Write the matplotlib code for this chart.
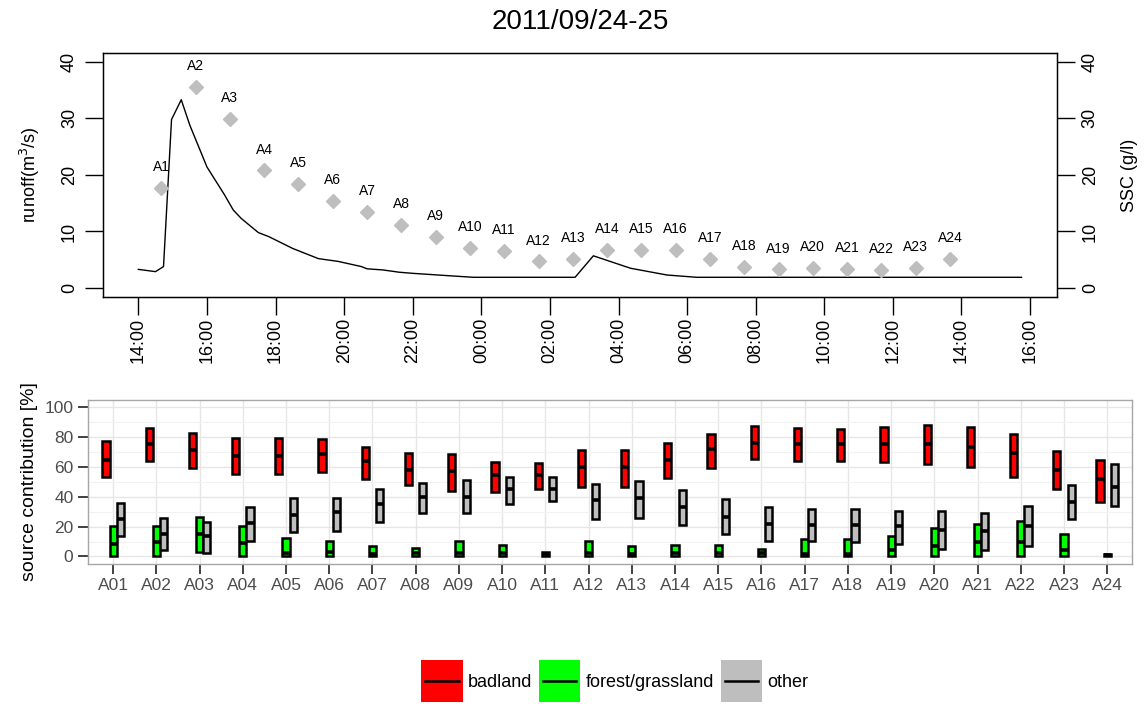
import numpy as np
import pandas as pd
import matplotlib
matplotlib.use("Agg")
import matplotlib.pyplot as plt
import matplotlib.dates as mdates
from matplotlib.patches import Patch, Rectangle
from matplotlib.lines import Line2D
from matplotlib.legend_handler import HandlerBase

plt.rcParams['font.family'] = ['Liberation Sans', 'DejaVu Sans']

# --- hydrograph (runoff) ---
runoff_time = ["2011-09-24 14:00", "2011-09-24 14:30", "2011-09-24 14:44", "2011-09-24 14:58",
               "2011-09-24 15:15", "2011-09-24 15:30", "2011-09-24 16:00", "2011-09-24 16:30",
               "2011-09-24 16:46", "2011-09-24 17:00", "2011-09-24 17:30", "2011-09-24 17:48",
               "2011-09-24 18:30", "2011-09-24 19:15", "2011-09-24 19:50", "2011-09-24 20:30",
               "2011-09-24 20:40", "2011-09-24 21:08", "2011-09-24 21:36", "2011-09-24 22:00",
               "2011-09-24 23:00", "2011-09-24 23:46", "2011-09-25 02:44", "2011-09-25 03:16",
               "2011-09-25 04:21", "2011-09-25 05:25", "2011-09-25 06:17", "2011-09-25 15:45"]
runoff = [3.3, 2.9, 3.8, 29.8, 33.3, 28.8, 21.4, 16.6, 13.8, 12.3, 9.8, 9.1,
          7.0, 5.2, 4.7, 3.8, 3.4, 3.2, 2.8, 2.6, 2.2, 1.9, 1.9, 5.7,
          3.5, 2.3, 1.9, 1.9]

# --- suspended sediment samples ---
sample_names = ["A%d" % i for i in range(1, 25)]
sample_time = pd.date_range("2011-09-24 14:40", periods=24, freq="h")
ssc = [17.7, 35.6, 29.9, 20.8, 18.4, 15.4, 13.5, 11.1, 9.1, 7.1, 6.6, 4.7,
       5.1, 6.8, 6.7, 6.7, 5.2, 3.8, 3.3, 3.5, 3.4, 3.2, 3.6, 5.1]

# --- source contributions (box: low, median, high) ---
sample_ids = ["A%02d" % i for i in range(1, 25)]
badland_lo = [53.2, 63.8, 59.4, 55.4, 55.4, 56.5, 51.9, 48.1, 43.7, 43.3, 45.2, 46.6,
              46.6, 52.3, 59.4, 65.3, 64.2, 63.8, 63.6, 62.0, 59.8, 53.6, 45.5, 36.4]
badland_med = [64.9, 75.3, 71.7, 67.5, 67.5, 68.7, 63.8, 58.1, 57.6, 54.3, 54.3, 59.8,
               59.8, 64.7, 72.0, 76.4, 75.7, 75.7, 75.7, 75.7, 73.5, 69.3, 58.1, 51.9]
badland_hi = [77.5, 86.3, 82.6, 79.3, 79.3, 79.0, 73.5, 69.1, 68.7, 63.6, 62.9, 71.7,
              71.7, 76.4, 81.9, 87.2, 85.9, 85.7, 86.8, 87.9, 86.8, 81.9, 70.4, 64.9]
forest_lo = [0, 0, 2.9, 0, 0, 0, 0, 0, 0, 0, 0, 0,
             0, 0, 0, 0, 0, 0, 0, 0, 0, 0, 0, 0]
forest_med = [8.4, 9.7, 15.2, 9.1, 2.0, 3.0, 1.5, 2.0, 2.0, 2.0, 1.7, 2.0,
              1.5, 2.0, 2.0, 2.0, 1.5, 1.5, 4.6, 7.3, 9.5, 9.5, 4.0, 0.8]
forest_hi = [20.1, 20.1, 26.7, 20.1, 12.4, 10.1, 6.8, 5.5, 10.1, 7.7, 3.3, 10.1,
             6.8, 7.9, 7.9, 5.1, 11.7, 11.9, 13.9, 19.0, 21.6, 24.1, 15.0, 1.8]
other_lo = [13.9, 4.2, 2.0, 10.6, 16.1, 17.2, 23.4, 28.9, 28.9, 35.5, 37.1, 25.4,
            26.0, 21.2, 15.2, 10.1, 10.1, 9.7, 8.6, 5.1, 4.2, 6.8, 25.4, 34.0]
other_med = [25.2, 15.2, 13.9, 22.7, 27.8, 29.6, 35.1, 39.9, 39.9, 45.2, 45.5, 37.7,
             39.5, 33.3, 26.7, 21.9, 21.2, 21.2, 20.5, 17.9, 17.2, 20.1, 36.2, 46.6]
other_hi = [36.0, 25.6, 23.4, 33.3, 38.9, 39.5, 45.5, 49.2, 51.4, 53.2, 53.2, 48.3,
            50.5, 44.8, 38.2, 32.9, 31.6, 31.6, 30.7, 30.5, 29.4, 33.8, 47.7, 62.0]

sources = ["badland", "forest/grassland", "other"]
source_colors = ["#FF0000", "#00FF00", "#BEBEBE"]


class BoxKey(HandlerBase):
    # filled square with a black median bar through its middle
    def create_artists(self, legend, orig_handle, xdescent, ydescent, width, height,
                       fontsize, trans):
        sq = Rectangle((-xdescent, -ydescent), width, height,
                       facecolor=orig_handle.get_facecolor(), edgecolor="none",
                       transform=trans)
        yc = -ydescent + height / 2
        bar = Line2D([-xdescent + 0.1 * width, -xdescent + 0.9 * width], [yc, yc],
                     color="black", lw=1.8, transform=trans)
        return [sq, bar]


fig = plt.figure(figsize=(11.45, 7.04), dpi=100)

# ---------------- top panel ----------------
ax = fig.add_axes([0.090, 0.578, 0.833, 0.347])
t = pd.to_datetime(runoff_time)
ax.plot(t, runoff, color="black", lw=1.0)
span = t[-1] - t[0]
ax.set_xlim(t[0] - 0.04 * span, t[-1] + 0.04 * span)
ax.set_ylim(-1.6, 41.6)
ax.set_yticks([0, 10, 20, 30, 40])
ax.set_ylabel("runoff(m$^3$/s)", fontsize=13, labelpad=14)
ax.xaxis.set_major_locator(mdates.HourLocator(byhour=range(0, 24, 2)))
ax.xaxis.set_major_formatter(mdates.DateFormatter("%H:%M"))
ax.tick_params(axis="x", labelrotation=90, length=13, width=1, labelsize=13, pad=2)
ax.tick_params(axis="y", labelrotation=90, length=13, width=1, labelsize=13, pad=5)
for lab in ax.get_yticklabels():
    lab.set_va("center")
for s in ax.spines.values():
    s.set_linewidth(1)

ax2 = ax.twinx()
ax2.plot(sample_time, ssc, ls="none", marker="D", ms=7, color="#BEBEBE", mec="#BEBEBE")
for name, tt, v in zip(sample_names, sample_time, ssc):
    ax2.annotate(name, (tt, v), xytext=(0, 15), textcoords="offset points",
                 ha="center", va="center", fontsize=10)
ax2.set_ylim(-1.6, 41.6)
ax2.set_yticks([0, 10, 20, 30, 40])
ax2.set_ylabel("SSC (g/l)", fontsize=13, labelpad=16)
ax2.tick_params(axis="y", labelrotation=90, length=13, width=1, labelsize=13, pad=5)
for lab in ax2.get_yticklabels():
    lab.set_va("center")
ax.set_title("2011/09/24-25", fontsize=20, pad=17)

# ---------------- bottom panel ----------------
bx = fig.add_axes([0.0769, 0.199, 0.912, 0.233])
x = np.arange(1, 25)
w = 0.167
groups = [(badland_lo, badland_med, badland_hi),
          (forest_lo, forest_med, forest_hi),
          (other_lo, other_med, other_hi)]
for k, ((lo, med, hi), col) in enumerate(zip(groups, source_colors)):
    pos = x + (k - 1) * w
    lo, med, hi = np.array(lo), np.array(med), np.array(hi)
    bx.bar(pos, hi - lo, bottom=lo, width=w, color=col, edgecolor="black",
           linewidth=1.8, zorder=3)
    bx.hlines(med, pos - w / 2, pos + w / 2, color="black", lw=2.6, zorder=4)

bx.set_xlim(0.42, 24.58)
bx.set_ylim(-5, 105)
bx.set_xticks(x)
bx.set_xticklabels(sample_ids)
bx.set_yticks([0, 20, 40, 60, 80, 100])
bx.set_yticks([10, 30, 50, 70, 90], minor=True)
bx.tick_params(axis="both", which="major", length=7, width=1.3, color="#333333",
               labelcolor="#4D4D4D", labelsize=12.5)
bx.tick_params(axis="y", which="minor", length=0)
bx.grid(True, which="major", color="#E6E6E6", lw=1, zorder=0)
bx.grid(True, which="minor", axis="y", color="#F2F2F2", lw=0.8, zorder=0)
bx.set_axisbelow(True)
for s in bx.spines.values():
    s.set_color("#A6A6A6")
    s.set_linewidth(1)
bx.set_ylabel("source contribution [%]", fontsize=14, labelpad=5)

# ---------------- legend ----------------
handles = [Patch(facecolor=c) for c in source_colors]
fig.legend(handles, sources, loc="center", bbox_to_anchor=(0.537, 0.032), ncol=3,
           frameon=False, fontsize=13, handlelength=2.3, handleheight=3.2,
           handletextpad=0.3, columnspacing=0.35,
           handler_map={Patch: BoxKey()})

fig.savefig("out.png", dpi=100)
